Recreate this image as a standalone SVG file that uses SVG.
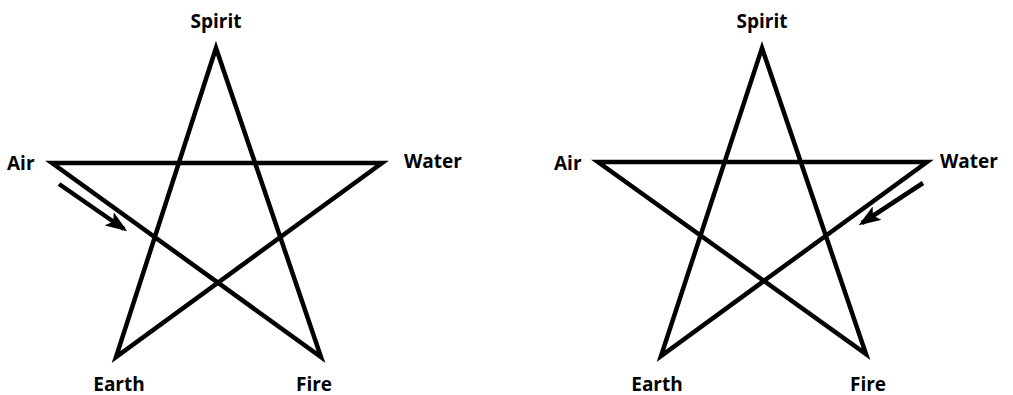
<svg xmlns="http://www.w3.org/2000/svg" width="1013" height="395" viewBox="0 0 1013 395">
<style>
.star{fill:none;stroke:#000;stroke-width:4.5;stroke-linejoin:miter;stroke-miterlimit:20}
.arr{fill:none;stroke:#000;stroke-width:4.5}
text{font-family:"Open Sans","DejaVu Sans",sans-serif;font-weight:bold;font-size:19px;fill:#000}
</style>
<defs>
<marker id="ah" markerUnits="userSpaceOnUse" markerWidth="22" markerHeight="16" refX="18" refY="8" orient="auto" viewBox="0 0 22 16">
<path d="M0,0 L22,8 L0,16 L5,8 Z" fill="#000"/>
</marker>
</defs>
<g id="connectors">
<g id="star-left">
<polygon class="star" points="216,48 321,357 52,163 382,163 116,357"/>
</g>
<g id="star-right">
<polygon class="star" points="762,48 866,354 598,162 927,162 661,356"/>
</g>
<line id="arrow-left" class="arr" x1="59" y1="184" x2="124" y2="229" marker-end="url(#ah)"/>
<line id="arrow-right" class="arr" x1="923" y1="183" x2="862" y2="223" marker-end="url(#ah)"/>
</g>
<g id="label-spirit-l"><text x="216" y="28" text-anchor="middle">Spirit</text></g>
<g id="label-air-l"><text x="7" y="170">Air</text></g>
<g id="label-water-l"><text x="404" y="168">Water</text></g>
<g id="label-earth-l"><text x="119" y="391" text-anchor="middle">Earth</text></g>
<g id="label-fire-l"><text x="314" y="391" text-anchor="middle">Fire</text></g>
<g id="label-spirit-r"><text x="762" y="28" text-anchor="middle">Spirit</text></g>
<g id="label-air-r"><text x="554" y="170">Air</text></g>
<g id="label-water-r"><text x="940" y="168">Water</text></g>
<g id="label-earth-r"><text x="657" y="391" text-anchor="middle">Earth</text></g>
<g id="label-fire-r"><text x="868" y="391" text-anchor="middle">Fire</text></g>
</svg>
